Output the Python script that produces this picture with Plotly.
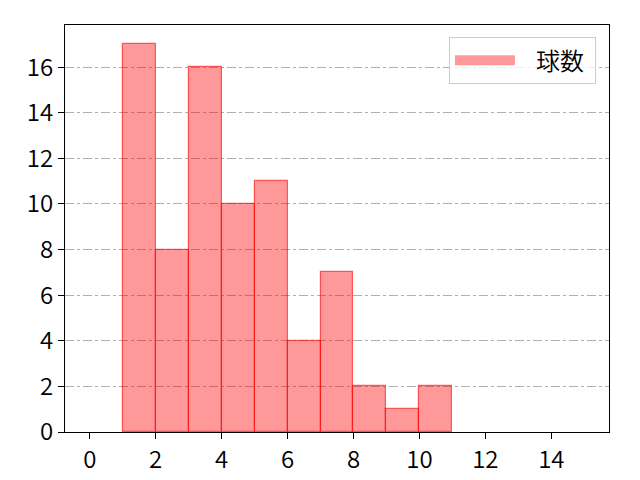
import plotly.graph_objects as go

# histogram of 球数: bin left edges and counts
bin_left = [1, 2, 3, 4, 5, 6, 7, 8, 9, 10]
counts = [17, 8, 16, 10, 11, 4, 7, 2, 1, 2]
bin_width = 1
x_ticks = [0, 2, 4, 6, 8, 10, 12, 14]
y_ticks = [0, 2, 4, 6, 8, 10, 12, 14, 16]
label = '球数'

centers = [b + bin_width / 2 for b in bin_left]

fig = go.Figure()
fig.add_trace(go.Bar(
    x=centers, y=counts, width=bin_width, name=label, showlegend=False,
    marker=dict(color='rgba(255,0,0,0.4)', line=dict(color='rgba(255,0,0,0.6)', width=1.2)),
))
# wide patch for the legend only
fig.add_trace(go.Scatter(x=[None], y=[None], mode='lines', name='\u00a0\u00a0\u00a0' + label + '\u00a0',
                         line=dict(color='rgba(255,0,0,0.4)', width=20)))

font = "Noto Sans CJK JP, DejaVu Sans, sans-serif"
# page body has an 8px margin, so the margins are shifted by it
fig.update_layout(
    width=640, height=480,
    margin=dict(l=57, r=39, t=17, b=56),
    plot_bgcolor='white', paper_bgcolor='white',
    font=dict(family=font, size=24, color='black', weight=350),
    bargap=0,
    legend=dict(x=0.976, y=0.97, xanchor='right', yanchor='top',
                bordercolor='#cccccc', borderwidth=1, bgcolor='rgba(255,255,255,0.8)',
                font=dict(size=24, weight=350), itemwidth=60),
)
fig.update_xaxes(range=[-0.75, 15.75], tickvals=x_ticks, showgrid=False, zeroline=False,
                 showline=True, linecolor='black', linewidth=1, mirror=True,
                 ticks='outside', ticklen=6, tickcolor='black')
fig.update_yaxes(range=[0, 17.85], tickvals=y_ticks, showgrid=True, gridcolor='#b0b0b0',
                 griddash='dashdot', gridwidth=1, zeroline=False,
                 showline=True, linecolor='black', linewidth=1, mirror=True,
                 ticks='outside', ticklen=6, tickcolor='black')

fig.write_html("out.html")
